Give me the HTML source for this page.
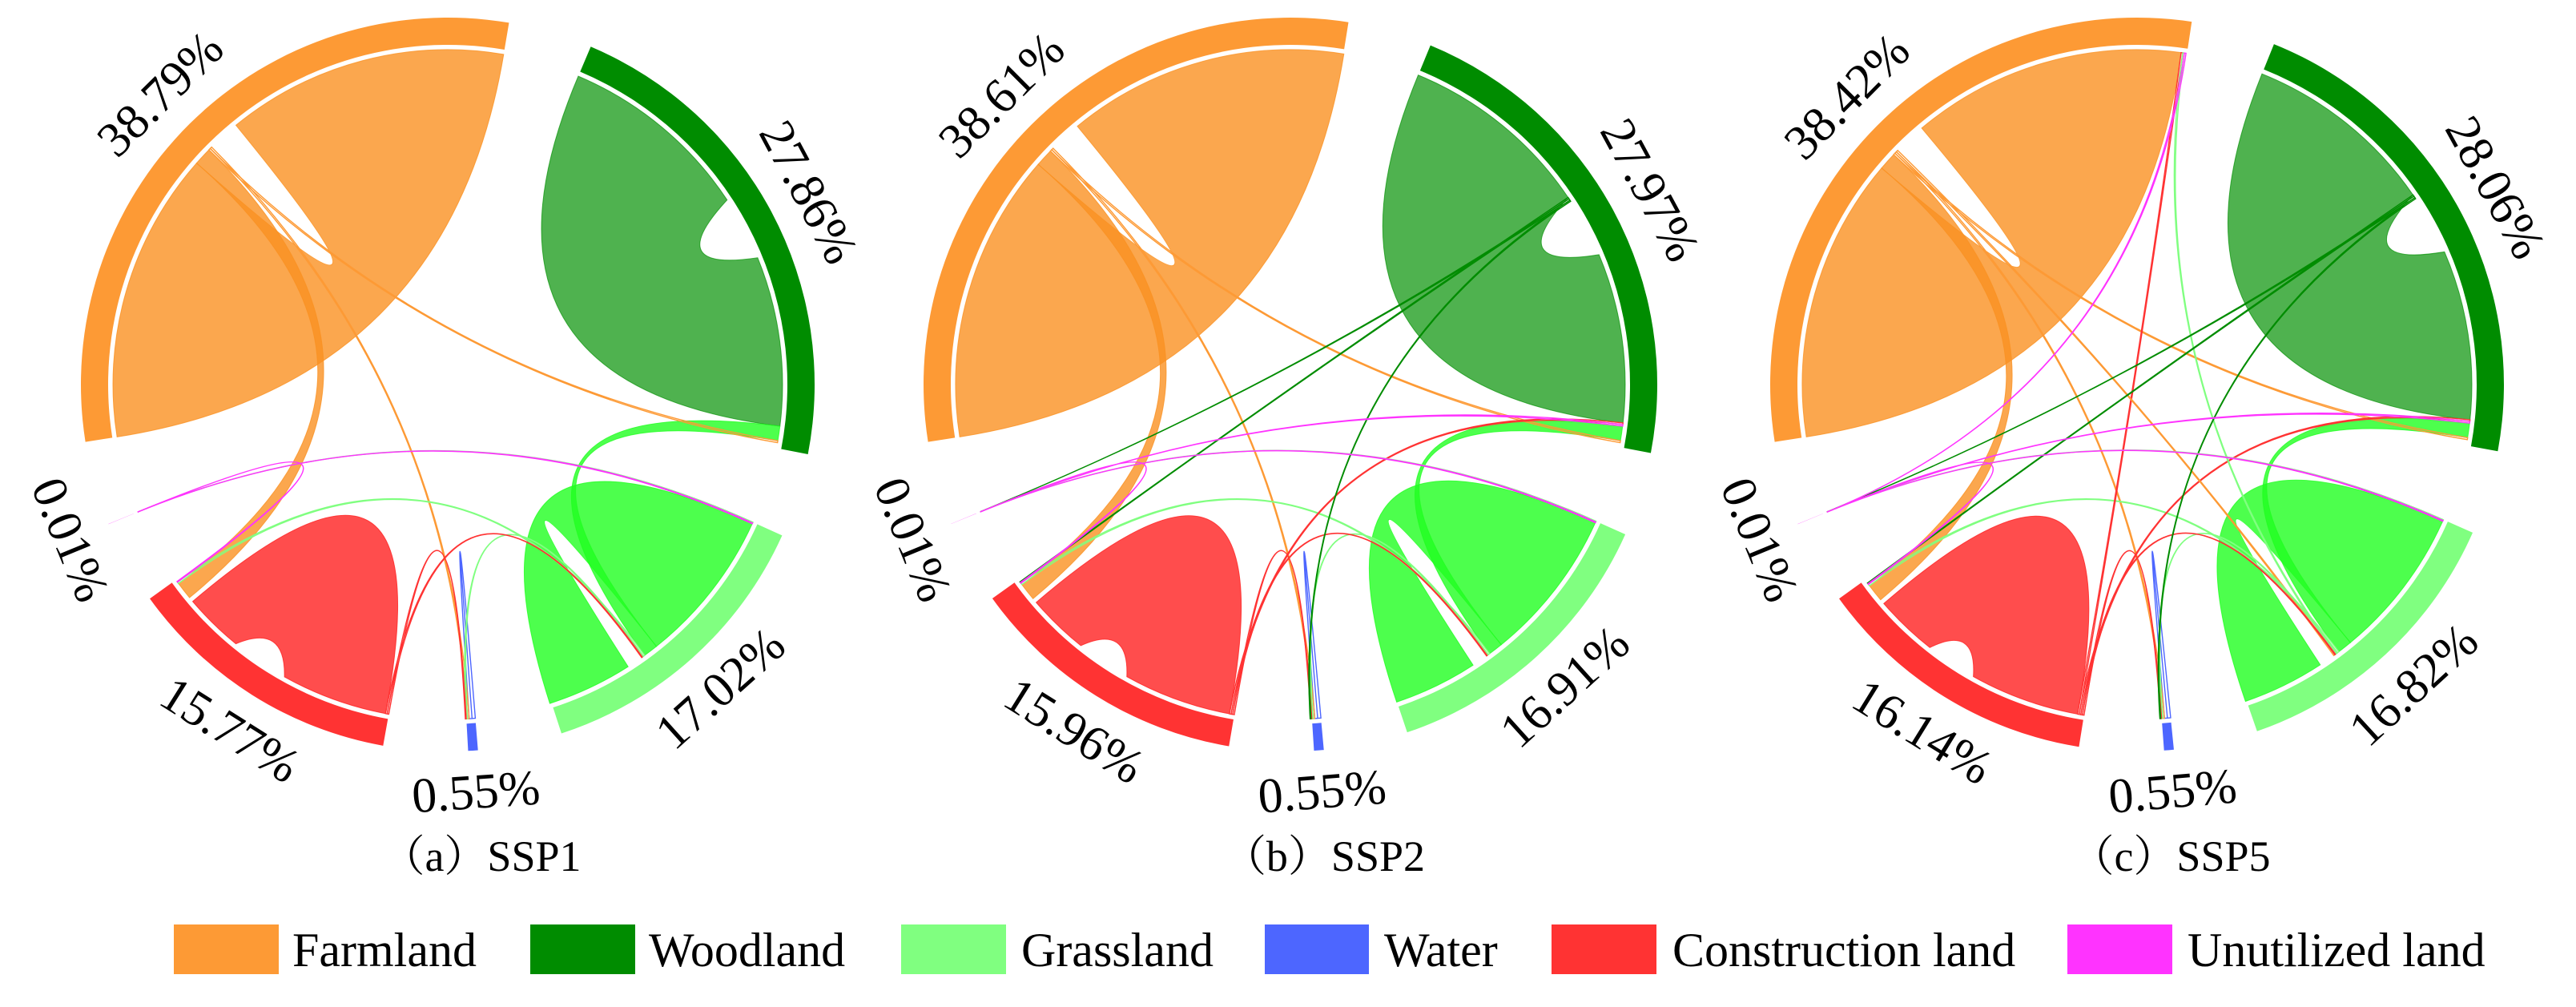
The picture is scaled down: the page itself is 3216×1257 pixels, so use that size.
<!DOCTYPE html>
<html><head><meta charset="utf-8">
<style>
html,body{margin:0;padding:0;background:#fff;}
svg{display:block;}
svg text{font-family:"Liberation Serif","DejaVu Serif","Noto Serif CJK SC",serif !important;}
</style></head>
<body>
<svg id="fig" xmlns="http://www.w3.org/2000/svg" width="3216" height="1257" viewBox="0 0 3216 1257">
<rect x="0" y="0" width="3216" height="1257" fill="#fff"/>
<g id="charts"></g>
<g id="legend" font-size="60">
  <g><rect x="217" y="1154" width="131" height="62" fill="#FD9A35"/><text x="365" y="1206" style="font-family:'Liberation Serif','DejaVu Serif',serif">Farmland</text></g>
  <g><rect x="662" y="1154" width="131" height="62" fill="#008C00"/><text x="810" y="1206" style="font-family:'Liberation Serif','DejaVu Serif',serif">Woodland</text></g>
  <g><rect x="1125" y="1154" width="131" height="62" fill="#80FF80"/><text x="1275" y="1206" style="font-family:'Liberation Serif','DejaVu Serif',serif">Grassland</text></g>
  <g><rect x="1579" y="1154" width="130" height="62" fill="#4D66FF"/><text x="1728" y="1206" style="font-family:'Liberation Serif','DejaVu Serif',serif">Water</text></g>
  <g><rect x="1937" y="1154" width="131" height="62" fill="#FF3333"/><text x="2088" y="1206" style="font-family:'Liberation Serif','DejaVu Serif',serif">Construction land</text></g>
  <g><rect x="2581" y="1154" width="131" height="62" fill="#FF33FF"/><text x="2731" y="1206" style="font-family:'Liberation Serif','DejaVu Serif',serif">Unutilized land</text></g>
</g>
</svg>
<script>
// ---- data ----
const groupNames = ['Farmland','Woodland','Grassland','Water','Construction land','Unutilized land'];
const sharesA = [38.79, 27.86, 17.02, 0.55, 15.77, 0.01];
const sharesB = [38.61, 27.97, 16.91, 0.55, 15.96, 0.01];
const sharesC = [38.42, 28.06, 16.82, 0.55, 16.14, 0.01];
const chartTitles = ['（a）SSP1', '（b）SSP2', '（c）SSP5'];

// flows: [sourceGroup, sourceValue, targetGroup, targetValue]
const flowsA = [
  [0,18.0,0,17.45],[0,1.1,4,1.1],[0,0.12,1,0.12],[0,0.12,3,0.1],
  [1,12.0,1,10.5],[2,0.9,1,0.9],[2,9.6,2,5.3],[2,0.1,4,0.1],
  [2,0.08,3,0.08],[2,0.05,5,0.003],[3,0.2,3,0.18],[4,6.6,4,3.7],
  [4,0.1,3,0.05],[4,0.1,2,0.05],[5,0.003,2,0.05],[5,0.003,4,0.05]
];
const flowsB = [
  [0,17.9,0,17.4],[0,1.1,4,1.1],[0,0.12,1,0.12],[0,0.12,3,0.1],
  [1,12.0,1,10.5],[2,0.9,1,0.9],[2,9.5,2,5.2],[2,0.1,4,0.1],
  [2,0.08,3,0.08],[2,0.05,5,0.003],[3,0.2,3,0.18],[4,6.7,4,3.8],
  [4,0.1,3,0.05],[4,0.1,2,0.05],[5,0.003,2,0.05],[5,0.003,4,0.05],
  [1,0.1,4,0.05],[1,0.1,5,0.003],[1,0.08,3,0.05],[4,0.1,1,0.1],[5,0.003,1,0.1]
];
const flowsC = [
  [0,17.6,0,17.0],[0,1.1,4,1.1],[0,0.12,1,0.12],[0,0.12,3,0.1],
  [1,12.0,1,10.5],[2,0.9,1,0.9],[2,9.4,2,5.1],[2,0.1,4,0.1],
  [2,0.08,3,0.08],[2,0.05,5,0.003],[3,0.2,3,0.18],[4,6.8,4,3.9],
  [4,0.1,3,0.05],[4,0.1,2,0.05],[5,0.003,2,0.05],[5,0.003,4,0.05],
  [1,0.1,4,0.05],[1,0.1,5,0.003],[1,0.08,3,0.05],[4,0.1,1,0.1],[5,0.003,1,0.1],
  [5,0.003,0,0.1],[2,0.08,0,0.1],[4,0.1,0,0.1],[0,0.12,2,0.08]
];
// order of ribbon ends around each group ('g' = spacing)
const ordersA = [
  ['0s','1s','2s','3s','g2.0','0d'],
  ['4s','g4.0','4d','5d','2d'],
  ['9s','14d','6s','5s','7s','8s','13d','g1.0','6d'],
  ['10s','10d','3d','8d','12d'],
  ['12s','13s','11s','g3.6','11d','g0.3','1d','7d','15d'],
  ['14s','15s','9d']
];
const ordersB = [
  ['0s','1s','2s','3s','g2.0','0d'],
  ['4s','16s','17s','18s','g3.7','4d','19d','20d','5d','2d'],
  ['9s','14d','6s','5s','7s','8s','13d','g1.0','6d'],
  ['10s','10d','3d','8d','12d','18d'],
  ['12s','13s','19s','11s','g3.4','11d','g0.3','1d','7d','15d','16d'],
  ['14s','15s','20s','9d','17d']
];
const ordersC = [
  ['0s','1s','2s','3s','24s','g2.0','0d','23d','22d','21d'],
  ['4s','16s','17s','18s','g3.7','4d','19d','20d','5d','2d'],
  ['9s','14d','6s','5s','7s','8s','22s','13d','24d','g1.0','6d'],
  ['10s','10d','3d','8d','12d','18d'],
  ['12s','13s','19s','23s','11s','g3.2','11d','g0.3','1d','7d','15d','16d'],
  ['14s','15s','20s','21s','9d','17d']
];

// ---- layout / style ----
const K = 2.8;
const GAP = (360 - 100*K)/6;
const START = 261;
const CY = 480, R_OUT = 458, R_IN = 424, R_CH = 418, LABEL_R = 510;
const centersX = [559, 1611, 2668];
const ringColors = ['#FD9A35','#008C00','#80FF80','#4D66FF','#FF3333','#FF33FF'];
const chordColors = ['#FA9122','#049104','#20FF20','#4D66FF','#FF2020','#FF33FF'];
const chordOpacity = [0.8,0.7,0.8,0.9,0.8,1];
const notchBend = {4:300, 11:360};
const NS = 'http://www.w3.org/2000/svg';
const FONT_STYLE = "font-family:'Liberation Serif','DejaVu Serif','Noto Serif CJK SC',serif";

function P(cx, th, r){ const a = th*Math.PI/180; return [cx + r*Math.sin(a), CY - r*Math.cos(a)]; }
function f(p){ return p[0].toFixed(2)+','+p[1].toFixed(2); }

function drawChart(ci, shares, flows, orders){
  const cx = centersX[ci];
  const root = document.getElementById('charts');
  const g = document.createElementNS(NS,'g');
  
  
  root.appendChild(g);
  const ends = flows.map(()=>({}));
  const arcs = [];
  let ang = START;
  shares.forEach((sh, gi)=>{
    const a0 = ang, a1 = ang + sh*K;
    arcs.push([a0,a1]);
    let p = a0;
    orders[gi].forEach(tok=>{
      if(tok[0]==='g'){ p += parseFloat(tok.slice(1))*K; return; }
      const i = parseInt(tok), side = tok.slice(-1);
      const fl = flows[i];
      const v = side==='s' ? fl[1] : fl[3];
      ends[i][side] = [p, p + v*K];
      p += v*K;
    });
    ang = a1 + GAP;
  });
  const idx = flows.map((_,i)=>i).sort((a,b)=>(flows[b][1]+flows[b][3])-(flows[a][1]+flows[a][3]));
  idx.forEach(i=>{
    const fl = flows[i];
    const a = ends[i].s, b = ends[i].d;
    if(!a || !b) return;
    const src = fl[0];
    const rho = notchBend[i] || 0;
    const midA = (a[1]+b[0])/2;
    const c1 = P(cx, midA, rho);
    const c2 = [cx, CY];
    const la = (a[1]-a[0])>180?1:0, lb=(b[1]-b[0])>180?1:0;
    const d = 'M'+f(P(cx,a[0],R_CH))+' A'+R_CH+','+R_CH+' 0 '+la+' 1 '+f(P(cx,a[1],R_CH))+
      ' Q'+f(c1)+' '+f(P(cx,b[0],R_CH))+' A'+R_CH+','+R_CH+' 0 '+lb+' 1 '+f(P(cx,b[1],R_CH))+
      ' Q'+f(c2)+' '+f(P(cx,a[0],R_CH))+' Z';
    const path = document.createElementNS(NS,'path');
    
    
    path.setAttribute('d', d);
    const thin = (fl[1]+fl[3]) < 0.6;
    path.setAttribute('fill', thin ? 'none' : chordColors[src]);
    path.setAttribute('fill-opacity', chordOpacity[src]);
    path.setAttribute('stroke', thin ? ringColors[src] : chordColors[src]);
    path.setAttribute('stroke-opacity', thin ? 1 : chordOpacity[src]);
    path.setAttribute('stroke-width', thin ? 1.4 : 1);
    g.appendChild(path);
  });
  arcs.forEach((ar, gi)=>{
    const [a0,a1] = ar;
    const lg = (a1-a0)>180?1:0;
    const d = 'M'+f(P(cx,a0,R_OUT))+' A'+R_OUT+','+R_OUT+' 0 '+lg+' 1 '+f(P(cx,a1,R_OUT))+
      ' L'+f(P(cx,a1,R_IN))+' A'+R_IN+','+R_IN+' 0 '+lg+' 0 '+f(P(cx,a0,R_IN))+' Z';
    const seg = document.createElementNS(NS,'path');
    
    
    seg.setAttribute('d', d);
    seg.setAttribute('fill', ringColors[gi]);
    g.appendChild(seg);
    const mid = (a0+a1)/2;
    const lp = P(cx, mid, LABEL_R);
    let nm = ((mid%360)+360)%360;
    let rot = (nm>90 && nm<270) ? nm-180 : (nm>=270 ? nm-360 : nm);
    const t = document.createElementNS(NS,'text');
    
    
    t.setAttribute('x', lp[0].toFixed(1));
    t.setAttribute('y', lp[1].toFixed(1));
    t.setAttribute('font-size', '62');
    t.setAttribute('style', FONT_STYLE);
    t.setAttribute('text-anchor', 'middle');
    t.setAttribute('dominant-baseline', 'central');
    t.setAttribute('transform', 'rotate('+rot.toFixed(1)+' '+lp[0].toFixed(1)+' '+lp[1].toFixed(1)+')');
    t.textContent = shares[gi].toFixed(2) + '%';
    g.appendChild(t);
  });
  const tt = document.createElementNS(NS,'text');
  
  
  tt.setAttribute('x', cx + 42);
  tt.setAttribute('y', 1087);
  tt.setAttribute('font-size', '54');
  tt.setAttribute('style', FONT_STYLE);
  tt.setAttribute('text-anchor', 'middle');
  tt.textContent = chartTitles[ci];
  g.appendChild(tt);
}
drawChart(0, sharesA, flowsA, ordersA);
drawChart(1, sharesB, flowsB, ordersB);
drawChart(2, sharesC, flowsC, ordersC);
</script>
</body></html>
